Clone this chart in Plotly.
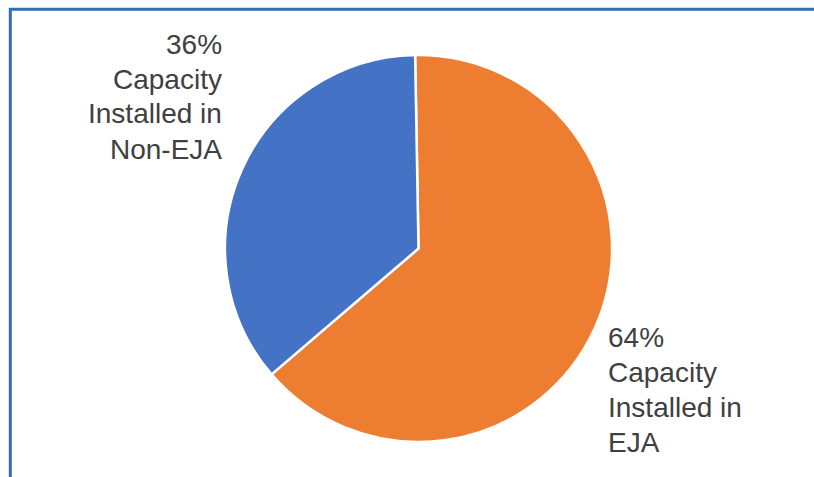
import plotly.graph_objects as go

W, H = 814, 477

labels = ["EJA", "Non-EJA"]
values = [64, 36]
colors = ["#ED7D31", "#4472C4"]
eja_lines = ["64%", "Capacity", "Installed in", "EJA"]
non_eja_lines = ["36%", "Capacity", "Installed in", "Non-EJA"]

cx, cy, r = 418.5, 248.5, 193.5

fig = go.Figure(go.Pie(
    labels=labels,
    values=values,
    marker=dict(colors=colors, line=dict(color="white", width=2.5)),
    sort=False,
    direction="clockwise",
    rotation=-1,
    textinfo="none",
    hoverinfo="label+percent",
    showlegend=False,
    domain=dict(x=[(cx - r) / W, (cx + r) / W], y=[1 - (cy + r) / H, 1 - (cy - r) / H]),
))

font = dict(family="Liberation Sans, Arial, sans-serif", size=28, color="#404040")
spacing = 35

for i, t in enumerate(non_eja_lines):
    fig.add_annotation(text=t, x=224 / W, y=1 - (44 + i * spacing) / H, xref="paper", yref="paper",
                       xanchor="right", yanchor="middle", align="right", showarrow=False, font=font)
for i, t in enumerate(eja_lines):
    fig.add_annotation(text=t, x=606 / W, y=1 - (337 + i * spacing) / H, xref="paper", yref="paper",
                       xanchor="left", yanchor="middle", align="left", showarrow=False, font=font)

border = "#2F6DB5"
fig.add_shape(type="line", xref="paper", yref="paper", x0=9 / W, x1=1.01, y0=1 - 9.3 / H, y1=1 - 9.3 / H,
              line=dict(color=border, width=3))
fig.add_shape(type="line", xref="paper", yref="paper", x0=10.3 / W, x1=10.3 / W, y0=-0.01, y1=1 - 8 / H,
              line=dict(color=border, width=3))

fig.update_layout(
    width=W, height=H,
    margin=dict(l=0, r=0, t=0, b=0),
    paper_bgcolor="white",
    plot_bgcolor="white",
)

fig.write_html("out.html", config={"displayModeBar": False},
               post_script="document.body.style.margin='0';document.body.style.overflow='hidden';")
